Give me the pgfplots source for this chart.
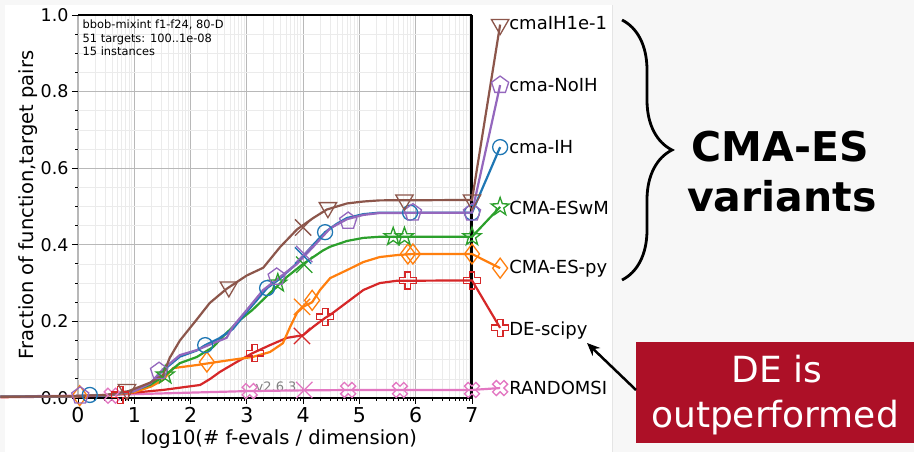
\documentclass[border=0pt]{standalone}
\usepackage{pgfplots}
\pgfplotsset{compat=1.18}
\usepackage{fontspec}
\setmainfont{DejaVu Sans}
\usetikzlibrary{decorations.pathreplacing,arrows.meta}
\definecolor{cblue}{HTML}{1F77B4}
\definecolor{corange}{HTML}{FF7F0E}
\definecolor{cgreen}{HTML}{2CA02C}
\definecolor{cred}{HTML}{D62728}
\definecolor{cpurple}{HTML}{9467BD}
\definecolor{cbrown}{HTML}{8C564B}
\definecolor{cpink}{HTML}{E377C2}
\definecolor{bggray}{HTML}{F7F7F7}
\definecolor{boxred}{HTML}{AD1027}
\pgfdeclareplotmark{fatplus}{%
  \pgfpathmoveto{\pgfqpoint{-0.33\pgfplotmarksize}{\pgfplotmarksize}}%
  \pgfpathlineto{\pgfqpoint{0.33\pgfplotmarksize}{\pgfplotmarksize}}%
  \pgfpathlineto{\pgfqpoint{0.33\pgfplotmarksize}{0.33\pgfplotmarksize}}%
  \pgfpathlineto{\pgfqpoint{\pgfplotmarksize}{0.33\pgfplotmarksize}}%
  \pgfpathlineto{\pgfqpoint{\pgfplotmarksize}{-0.33\pgfplotmarksize}}%
  \pgfpathlineto{\pgfqpoint{0.33\pgfplotmarksize}{-0.33\pgfplotmarksize}}%
  \pgfpathlineto{\pgfqpoint{0.33\pgfplotmarksize}{-\pgfplotmarksize}}%
  \pgfpathlineto{\pgfqpoint{-0.33\pgfplotmarksize}{-\pgfplotmarksize}}%
  \pgfpathlineto{\pgfqpoint{-0.33\pgfplotmarksize}{-0.33\pgfplotmarksize}}%
  \pgfpathlineto{\pgfqpoint{-\pgfplotmarksize}{-0.33\pgfplotmarksize}}%
  \pgfpathlineto{\pgfqpoint{-\pgfplotmarksize}{0.33\pgfplotmarksize}}%
  \pgfpathlineto{\pgfqpoint{-0.33\pgfplotmarksize}{0.33\pgfplotmarksize}}%
  \pgfpathclose\pgfusepathqstroke}
\pgfdeclareplotmark{ostar}{%
  \pgfpathmoveto{\pgfqpoint{0pt}{\pgfplotmarksize}}%
  \pgfpathlineto{\pgfqpoint{-0.235\pgfplotmarksize}{0.324\pgfplotmarksize}}%
  \pgfpathlineto{\pgfqpoint{-0.951\pgfplotmarksize}{0.309\pgfplotmarksize}}%
  \pgfpathlineto{\pgfqpoint{-0.380\pgfplotmarksize}{-0.124\pgfplotmarksize}}%
  \pgfpathlineto{\pgfqpoint{-0.588\pgfplotmarksize}{-0.809\pgfplotmarksize}}%
  \pgfpathlineto{\pgfqpoint{0pt}{-0.4\pgfplotmarksize}}%
  \pgfpathlineto{\pgfqpoint{0.588\pgfplotmarksize}{-0.809\pgfplotmarksize}}%
  \pgfpathlineto{\pgfqpoint{0.380\pgfplotmarksize}{-0.124\pgfplotmarksize}}%
  \pgfpathlineto{\pgfqpoint{0.951\pgfplotmarksize}{0.309\pgfplotmarksize}}%
  \pgfpathlineto{\pgfqpoint{0.235\pgfplotmarksize}{0.324\pgfplotmarksize}}%
  \pgfpathclose\pgfusepathqstroke}
\tikzset{mk/.style={draw=#1, fill=none, line width=1.3pt, solid}}
\begin{document}
\begin{tikzpicture}[x=1pt,y=1pt]
\fill[bggray] (0,0) rectangle (914,452);
\fill[white] (5,0) rectangle (612,447);
\begin{axis}[
  at={(78pt,54pt)}, anchor=south west,
  scale only axis, width=394pt, height=383pt,
  xmin=0, xmax=7, ymin=0, ymax=1,
  clip=false,
  axis line style={draw=none},
  xtick={0,1,2,3,4,5,6,7},
  xticklabels={0,1,2,3,4,5,6,7},
  ytick={0,0.2,0.4,0.6,0.8,1.0},
  yticklabels={0.0,0.2,0.4,0.6,0.8,1.0},
  minor xtick={0.301,0.477,0.602,0.699,0.778,0.845,0.903,0.954,
    1.301,1.477,1.602,1.699,1.778,1.845,1.903,1.954,
    2.301,2.477,2.602,2.699,2.778,2.845,2.903,2.954,
    3.301,3.477,3.602,3.699,3.778,3.845,3.903,3.954,
    4.301,4.477,4.602,4.699,4.778,4.845,4.903,4.954,
    5.301,5.477,5.602,5.699,5.778,5.845,5.903,5.954,
    6.301,6.477,6.602,6.699,6.778,6.845,6.903,6.954},
  minor ytick={0.05,0.1,0.15,0.25,0.3,0.35,0.45,0.5,0.55,0.65,0.7,0.75,0.85,0.9,0.95},
  grid=both,
  major grid style={color=black!28, line width=1.1pt},
  minor grid style={color=black!8, line width=0.6pt},
  tick align=outside, xtick pos=left, ytick pos=left,
  major tick length=6pt, minor tick length=3pt,
  every tick/.style={black, line width=0.9pt},
  xticklabel style={font=\fontsize{20.5}{24}\selectfont},
  yticklabel style={font=\fontsize{17.5}{20}\selectfont},
]
\draw[black, line width=1.3pt] (axis cs:0,1) -- (axis cs:7,1);
\draw[black, line width=1.3pt] (axis cs:0,0) -- (axis cs:7,0);
\draw[black, line width=3pt] (axis cs:7,0) -- (axis cs:7,1);
\node[text=black!50, font=\fontsize{13}{15}\selectfont] at (axis cs:3.52,0.029) {v2.6.3};
% ---- lines
\addplot[cpink, line width=2.2pt] coordinates {(-1.38,0.004) (0,0.006) (1,0.01) (2,0.014) (3,0.018) (4,0.02) (5,0.021) (7,0.021) (7.5,0.026)};
\addplot[cred, line width=2.2pt] coordinates {(-1.38,0.002) (0,0.004) (0.5,0.006) (0.92,0.013) (1.51,0.021) (2.17,0.034) (2.35,0.05) (2.52,0.068) (2.82,0.094) (3.1,0.117) (3.41,0.138) (3.71,0.157) (4.0,0.164) (4.18,0.186) (4.39,0.209) (4.48,0.217) (4.78,0.25) (5.07,0.282) (5.36,0.30) (5.66,0.306) (7,0.307) (7.5,0.183)};
\addplot[corange, line width=2.2pt] coordinates {(-1.38,0.003) (0,0.005) (0.5,0.007) (1.0,0.015) (1.3,0.03) (1.51,0.047) (1.69,0.078) (2.11,0.086) (2.7,0.099) (3.1,0.107) (3.41,0.12) (3.64,0.143) (3.77,0.186) (3.89,0.222) (4.0,0.238) (4.16,0.25) (4.3,0.282) (4.48,0.313) (4.78,0.334) (5.07,0.355) (5.36,0.368) (5.66,0.373) (5.95,0.376) (7,0.376) (7.5,0.339)};
\addplot[cgreen, line width=2.2pt] coordinates {(-1.38,0.003) (0,0.005) (0.5,0.007) (0.92,0.016) (1.28,0.034) (1.51,0.055) (1.81,0.091) (2.11,0.107) (2.4,0.133) (2.64,0.17) (2.88,0.204) (3.1,0.23) (3.41,0.274) (3.71,0.316) (4.0,0.35) (4.35,0.385) (4.48,0.395) (4.78,0.41) (5.07,0.418) (5.36,0.421) (7,0.421) (7.5,0.499)};
\addplot[cblue, line width=2.2pt] coordinates {(-1.38,0.003) (0,0.005) (0.5,0.007) (1.0,0.018) (1.28,0.038) (1.51,0.072) (1.81,0.108) (2.11,0.124) (2.26,0.138) (2.5,0.155) (2.75,0.18) (3.0,0.225) (3.36,0.287) (3.59,0.312) (3.89,0.352) (4.18,0.4) (4.39,0.433) (4.6,0.455) (4.78,0.47) (5.07,0.48) (5.36,0.484) (7,0.484) (7.5,0.655)};
\addplot[cpurple, line width=2.2pt] coordinates {(-1.38,0.003) (0,0.005) (0.5,0.007) (1.0,0.018) (1.28,0.038) (1.51,0.075) (1.81,0.112) (2.11,0.125) (2.4,0.143) (2.64,0.157) (2.75,0.186) (3.0,0.23) (3.29,0.282) (3.59,0.316) (3.89,0.35) (4.18,0.395) (4.48,0.443) (4.78,0.467) (5.07,0.478) (5.36,0.483) (7,0.484) (7.5,0.817)};
\addplot[cbrown, line width=2.2pt] coordinates {(-1.38,0.003) (0,0.005) (0.5,0.008) (0.9,0.018) (1.28,0.04) (1.51,0.06) (1.63,0.105) (1.81,0.15) (2.11,0.205) (2.34,0.248) (2.64,0.285) (3.0,0.32) (3.29,0.34) (3.59,0.394) (3.89,0.44) (4.18,0.47) (4.42,0.492) (4.78,0.508) (5.07,0.513) (5.36,0.516) (7,0.517) (7.5,0.975)};
% ---- markers
\addplot[only marks, mark=fatplus, mark size=8pt, mark options={mk=cpink, rotate=45}] coordinates {(0.6,0.006) (3.05,0.018) (4.8,0.021) (5.72,0.021) (7,0.021) (7.5,0.026)};
\addplot[only marks, mark=fatplus, mark size=8.5pt, mark options={mk=cred}] coordinates {(0.75,0.008) (3.14,0.117) (4.39,0.212) (5.86,0.307) (7,0.307) (7.5,0.183)};
\addplot[only marks, mark=diamond, mark size=10pt, mark options={mk=corange}] coordinates {(0.03,0.006) (2.29,0.094) (4.16,0.255) (5.86,0.376) (5.95,0.376) (7,0.376) (7.5,0.339)};
\addplot[only marks, mark=ostar, mark size=9.5pt, mark options={mk=cgreen}] coordinates {(1.55,0.06) (3.55,0.30) (5.6,0.421) (5.8,0.421) (7,0.421) (7.5,0.499)};
\addplot[only marks, mark=o, mark size=7.5pt, mark options={mk=cblue}] coordinates {(0.21,0.008) (2.26,0.138) (3.36,0.287) (4.39,0.433) (5.9,0.484) (7,0.484) (7.5,0.655)};
\addplot[only marks, mark=pentagon, mark size=9pt, mark options={mk=cpurple}] coordinates {(0.04,0.006) (1.44,0.07) (3.53,0.316) (4.8,0.462) (5.95,0.484) (7,0.484) (7.5,0.817)};
\addplot[only marks, mark=triangle, mark size=10pt, mark options={mk=cbrown, rotate=180}] coordinates {(0.87,0.022) (2.68,0.29) (4.44,0.497) (5.8,0.517) (7,0.517) (7.5,0.975)};
% ---- budget crosses
\addplot[only marks, mark=x, mark size=11.5pt, mark options={mk=cpink}] coordinates {(4.02,0.021)};
\addplot[only marks, mark=x, mark size=11.5pt, mark options={mk=cred}] coordinates {(3.98,0.162)};
\addplot[only marks, mark=x, mark size=11.5pt, mark options={mk=corange}] coordinates {(3.98,0.238)};
\addplot[only marks, mark=x, mark size=11.5pt, mark options={mk=cgreen}] coordinates {(4.02,0.348)};
\addplot[only marks, mark=x, mark size=11.5pt, mark options={mk=cblue}] coordinates {(4.0,0.372)};
\addplot[only marks, mark=x, mark size=11.5pt, mark options={mk=cpurple}] coordinates {(4.02,0.376)};
\addplot[only marks, mark=x, mark size=11.5pt, mark options={mk=cbrown}] coordinates {(4.0,0.445)};
% ---- labels
\begin{scope}[every node/.style={anchor=base west, inner sep=0pt, font=\fontsize{18}{21}\selectfont}]
\node at (axis cs:7.66,0.961) {cmaIH1e-1};
\node at (axis cs:7.66,0.800) {cma-NoIH};
\node at (axis cs:7.66,0.638) {cma-IH};
\node at (axis cs:7.66,0.480) {CMA-ESwM};
\node at (axis cs:7.66,0.324) {CMA-ES-py};
\node at (axis cs:7.66,0.162) {DE-scipy};
\node at (axis cs:7.66,0.009) {RANDOMSI};
\end{scope}
\end{axis}
% texts of the chart
\begin{scope}[every node/.style={anchor=base west, inner sep=0pt, font=\fontsize{11.4}{13}\selectfont}]
\node at (82.5,423.5) {bbob-mixint f1-f24, 80-D};
\node at (82.5,409.5) {51 targets: 100..1e-08};
\node at (82.5,396.5) {15 instances};
\end{scope}
\node[rotate=90, anchor=base, inner sep=0pt, font=\fontsize{19.5}{22}\selectfont] at (33,247) {Fraction of function,target pairs};
\node[anchor=base, inner sep=0pt, font=\fontsize{19.5}{22}\selectfont] at (279,7) {log10(\# f-evals / dimension)};
% right panel
\fill[bggray] (612,0) rectangle (914,452);
\draw[black!10, line width=0.8pt] (612,0) -- (612,447);
\draw[line width=2.8pt, decorate, decoration={brace, amplitude=50pt}] (622,432) -- (622,172);
\node[anchor=base, inner sep=0pt, font=\fontsize{41}{46}\selectfont\bfseries] at (780,290) {CMA-ES};
\node[anchor=base, inner sep=0pt, font=\fontsize{41}{46}\selectfont\bfseries] at (782,240) {variants};
\fill[boxred] (636,9) rectangle (914,110);
\node[anchor=base, inner sep=0pt, text=white, font=\fontsize{36}{40}\selectfont] at (777,69) {DE is};
\node[anchor=base, inner sep=0pt, text=white, font=\fontsize{36}{40}\selectfont] at (775,24) {outperformed};
\draw[line width=2.5pt, -{Stealth[length=13pt,width=11pt]}] (636,62) -- (587,109);
\pgfresetboundingbox
\path[use as bounding box] (0,0) rectangle (914,452);
\end{tikzpicture}
\end{document}
